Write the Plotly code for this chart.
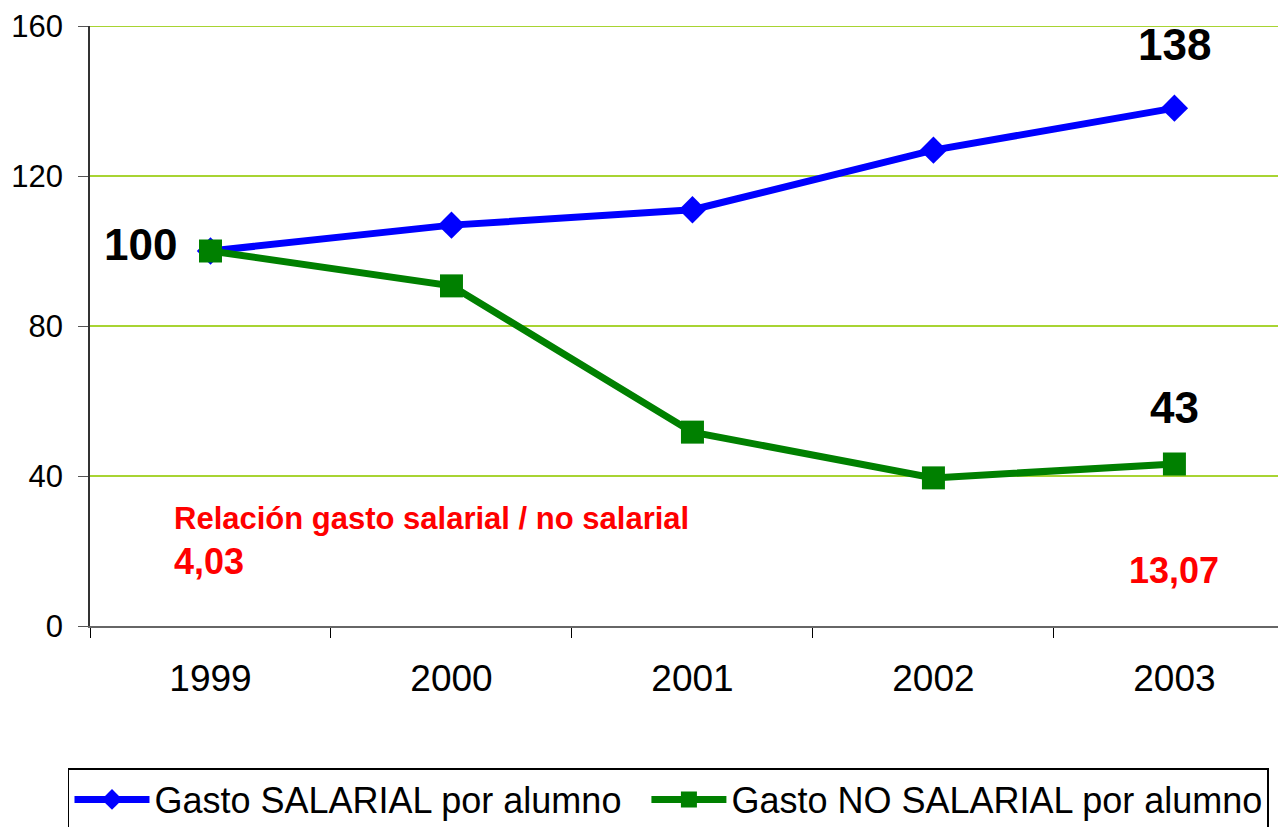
import plotly.graph_objects as go

# data
years = ["1999", "2000", "2001", "2002", "2003"]
gasto_salarial = [100, 106.9, 111.0, 126.9, 138.1]
gasto_no_salarial = [100, 90.7, 51.7, 39.5, 43.2]
ratio_years = ["1999", "2003"]
ratio_values = ["4,03", "13,07"]
end_labels = ["100", "138", "43"]

FONT = "Liberation Sans, Arial, sans-serif"
GRID = "#A8D432"

fig = go.Figure()

fig.add_trace(go.Scatter(x=years, y=gasto_salarial, mode="lines+markers",
                         name="Gasto SALARIAL por alumno&nbsp;&nbsp;",
                         line=dict(color="#0000FF", width=7),
                         marker=dict(symbol="diamond", size=21, color="#0000FF")))
fig.add_trace(go.Scatter(x=years, y=gasto_no_salarial, mode="lines+markers",
                         name="Gasto NO SALARIAL por alumno",
                         line=dict(color="#008000", width=7),
                         marker=dict(symbol="square", size=23, color="#008000")))

bold_big = dict(family=FONT, size=44, color="black")
red = dict(family=FONT, size=36, color="#FF0000")

first = years.index("1999")
last = years.index("2003")

# value labels at the ends of the series (category axis -> numeric index)
fig.add_annotation(x=first, y=gasto_salarial[first], text="<b>%s</b>" % end_labels[0],
                   showarrow=False, font=bold_big, xshift=-70, yshift=7)
fig.add_annotation(x=last, y=gasto_salarial[last], text="<b>%s</b>" % end_labels[1],
                   showarrow=False, font=bold_big, yshift=64)
fig.add_annotation(x=last, y=gasto_no_salarial[last], text="<b>%s</b>" % end_labels[2],
                   showarrow=False, font=bold_big, yshift=57)

# ratio salarial / no salarial
fig.add_annotation(xref="paper", x=0.0686, y=28.8, xanchor="left",
                   text="<b>Relación gasto salarial / no salarial</b>",
                   showarrow=False, font=dict(family=FONT, size=31, color="#FF0000"))
fig.add_annotation(x=years.index(ratio_years[0]), y=17.1, xanchor="left", xshift=-38,
                   text="<b>%s</b>" % ratio_values[0], showarrow=False, font=red)
fig.add_annotation(x=years.index(ratio_years[1]), y=14.9,
                   text="<b>%s</b>" % ratio_values[1], showarrow=False, font=red)

# top gridline sits on the plot edge, plotly drops it, so draw it
fig.add_shape(type="line", xref="paper", x0=0, x1=1, y0=160, y1=160,
              line=dict(color=GRID, width=2), layer="below")

fig.update_xaxes(type="category", range=[-0.5, 4.463], tickson="boundaries",
                 ticks="outside", ticklen=10, tickcolor="black", tickwidth=1,
                 showline=True, linecolor="#666666", linewidth=1.5,
                 showgrid=False, ticklabelstandoff=19, automargin=False,
                 tickfont=dict(family=FONT, size=37, color="black"))
fig.update_yaxes(range=[0, 160], tickvals=[0, 40, 80, 120, 160], ticks="outside", ticklen=10,
                 tickcolor="#555555", showline=True, linecolor="#333333", linewidth=1.5,
                 gridcolor=GRID, gridwidth=1.5, zeroline=False,
                 ticklabelstandoff=9, automargin=False,
                 tickfont=dict(family=FONT, size=31, color="black"))

# the page body adds an 8px offset, so the figure is 8px smaller than the window
fig.update_layout(
    width=1278, height=819,
    margin=dict(l=82, r=0, t=18, b=201, autoexpand=False),
    plot_bgcolor="white", paper_bgcolor="white",
    showlegend=True,
    legend=dict(orientation="h", x=-0.0184, y=-0.2367, xanchor="left", yanchor="top",
                bordercolor="black", borderwidth=1.5, itemwidth=75,
                font=dict(family=FONT, size=36, color="black")),
)

fig.write_html("out.html")
